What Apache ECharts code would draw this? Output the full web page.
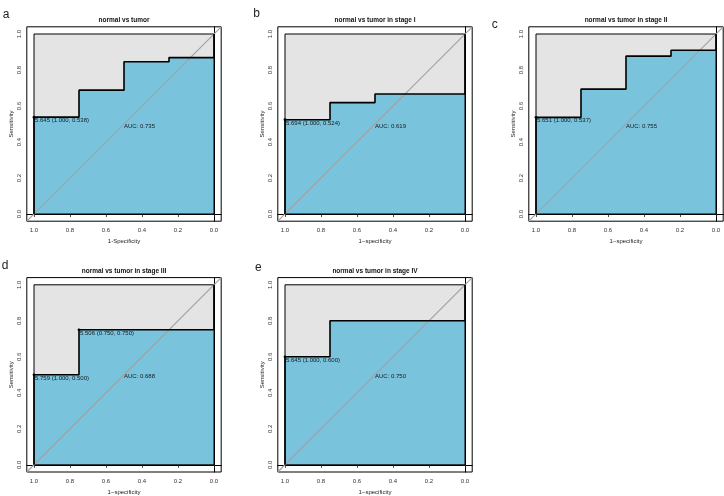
<!DOCTYPE html>
<html>
<head>
<meta charset="utf-8">
<script src="https://cdn.jsdelivr.net/npm/echarts@6/dist/echarts.min.js"></script>
<style>
html,body{margin:0;padding:0;background:#fff;}
#chart{width:724px;height:496px;}
</style>
</head>
<body>
<div id="chart"></div>
<script>
// ---- data ----
const panelLetters = ['a', 'b', 'c', 'd', 'e'];
const panelTitles = ['normal vs tumor', 'normal vs tumor in stage I', 'normal vs tumor in stage II', 'normal vs tumor in stage III', 'normal vs tumor in stage IV'];
const xAxisNames = ['1-Specificity', '1\u2212specificity', '1\u2212specificity', '1\u2212specificity', '1\u2212specificity'];
const yAxisName = 'Sensitivity';
const tickValues = [0, 0.2, 0.4, 0.6, 0.8, 1.0];
const aucValues = [0.735, 0.619, 0.755, 0.688, 0.750];

// ROC step curves (x = specificity, reversed axis)
const specA = [1, 1, 0.75, 0.75, 0.5, 0.5, 0.25, 0.25, 0, 0];
const sensA = [0, 0.538, 0.538, 0.688, 0.688, 0.846, 0.846, 0.869, 0.869, 1];
const specB = [1, 1, 0.75, 0.75, 0.5, 0.5, 0, 0];
const sensB = [0, 0.524, 0.524, 0.619, 0.619, 0.667, 0.667, 1];
const specC = [1, 1, 0.75, 0.75, 0.5, 0.5, 0.25, 0.25, 0, 0];
const sensC = [0, 0.537, 0.537, 0.694, 0.694, 0.877, 0.877, 0.910, 0.910, 1];
const specD = [1, 1, 0.75, 0.75, 0, 0];
const sensD = [0, 0.500, 0.500, 0.750, 0.750, 1];
const specE = [1, 1, 0.75, 0.75, 0, 0];
const sensE = [0, 0.600, 0.600, 0.800, 0.800, 1];

// best thresholds
const thrSpecA = [1.000]; const thrSensA = [0.538]; const thrValA = [5.645];
const thrSpecB = [1.000]; const thrSensB = [0.524]; const thrValB = [5.694];
const thrSpecC = [1.000]; const thrSensC = [0.537]; const thrValC = [5.651];
const thrSpecD = [1.000, 0.750]; const thrSensD = [0.500, 0.750]; const thrValD = [5.759, 5.506];
const thrSpecE = [1.000]; const thrSensE = [0.600]; const thrValE = [5.645];

// max AUC polygon (unit square) and identity line
const maxPolySpec = [1, 0, 0, 1];
const maxPolySens = [0, 0, 1, 1];
const diagSpec = [1.04, -0.04];
const diagSens = [-0.04, 1.04];
const aucTextSpec = 0.5;
const aucTextSens = 0.5;

const specs = [specA, specB, specC, specD, specE];
const senss = [sensA, sensB, sensC, sensD, sensE];
const thrSpecs = [thrSpecA, thrSpecB, thrSpecC, thrSpecD, thrSpecE];
const thrSenss = [thrSensA, thrSensB, thrSensC, thrSensD, thrSensE];
const thrVals = [thrValA, thrValB, thrValC, thrValD, thrValE];

// ---- layout / style ----
const FONT = '"Liberation Sans", Arial, Helvetica, sans-serif';
const BLUE = '#79c3dd';
const GREY = '#e4e4e4';
const DIAG = '#a2a2a2';
const SIZE = 194.4;
const gridLefts = [26.8, 277.8, 528.8, 26.8, 277.8];
const gridTops = [26.8, 26.8, 26.8, 277.6, 277.6];
const letterPos = [[2.7, 8.3], [253.3, 8.0], [491.7, 18.3], [1.7, 260], [255, 261.7]];

const grids = [], xAxes = [], yAxes = [], series = [], titles = [], graphics = [];

for (let i = 0; i < 5; i++) {
  grids.push({
    left: gridLefts[i], top: gridTops[i], width: SIZE, height: SIZE,
    show: true, borderColor: '#000', borderWidth: 1, backgroundColor: 'transparent', containLabel: false
  });
  xAxes.push({
    gridIndex: i, type: 'value', min: -0.04, max: 1.04, inverse: true,
    name: xAxisNames[i], nameLocation: 'middle', nameGap: 17,
    nameTextStyle: { fontSize: 6, color: '#222', fontFamily: FONT },
    axisLine: { show: true, lineStyle: { color: '#000', width: 1 } },
    axisTick: { show: true, length: 3, customValues: tickValues, lineStyle: { color: '#222', width: 0.8 } },
    axisLabel: { customValues: tickValues, formatter: v => v.toFixed(1), margin: 6.5, fontSize: 6, color: '#333', fontFamily: FONT },
    splitLine: { show: false }
  });
  yAxes.push({
    gridIndex: i, type: 'value', min: -0.04, max: 1.04,
    name: yAxisName, nameLocation: 'middle', nameGap: 12,
    nameTextStyle: { fontSize: 6, color: '#222', fontFamily: FONT },
    axisLine: { show: true, lineStyle: { color: '#000', width: 1 } },
    axisTick: { show: true, length: 3, customValues: tickValues, lineStyle: { color: '#222', width: 0.8 } },
    axisLabel: { customValues: tickValues, formatter: v => v.toFixed(1), margin: 4.5, rotate: 90, fontSize: 6, color: '#333', fontFamily: FONT },
    splitLine: { show: false }
  });

  const rocData = specs[i].map((s, k) => [s, senss[i][k]]);
  const polyData = maxPolySpec.map((s, k) => [s, maxPolySens[k]]);

  // grey max-AUC polygon fill
  series.push({
    type: 'custom', xAxisIndex: i, yAxisIndex: i, silent: true, z: 1,
    data: [0],
    renderItem: (params, api) => ({
      type: 'polygon',
      shape: { points: polyData.map(p => api.coord(p)) },
      style: { fill: GREY, stroke: null }
    })
  });
  // blue AUC polygon
  series.push({
    type: 'line', xAxisIndex: i, yAxisIndex: i, silent: true, z: 2,
    data: rocData, symbol: 'none',
    lineStyle: { width: 0, opacity: 0 },
    areaStyle: { color: BLUE, opacity: 1, origin: 0 }
  });
  // square outline
  series.push({
    type: 'custom', xAxisIndex: i, yAxisIndex: i, silent: true, z: 3,
    data: [0],
    renderItem: (params, api) => ({
      type: 'polygon',
      shape: { points: polyData.map(p => api.coord(p)) },
      style: { fill: null, stroke: '#000', lineWidth: 1 }
    })
  });
  // identity line
  series.push({
    type: 'line', xAxisIndex: i, yAxisIndex: i, silent: true, z: 4,
    data: diagSpec.map((s, k) => [s, diagSens[k]]), symbol: 'none',
    lineStyle: { color: DIAG, width: 1.2 }
  });
  // ROC curve
  series.push({
    type: 'line', xAxisIndex: i, yAxisIndex: i, silent: true, z: 5,
    data: rocData, symbol: 'none',
    lineStyle: { color: '#000', width: 1.6 }
  });
  // thresholds
  series.push({
    type: 'custom', xAxisIndex: i, yAxisIndex: i, silent: true, z: 6,
    data: thrSpecs[i].map((s, k) => [s, thrSenss[i][k], thrVals[i][k]]),
    renderItem: (params, api) => {
      const sp = api.value(0), se = api.value(1), th = api.value(2);
      const p = api.coord([sp, se]);
      return {
        type: 'group',
        children: [
          { type: 'circle', shape: { cx: p[0], cy: p[1], r: 1.4 }, style: { fill: '#000' } },
          { type: 'text', x: p[0] + 1, y: p[1] + 0.3,
            style: { text: th.toFixed(3) + ' (' + sp.toFixed(3) + ', ' + se.toFixed(3) + ')',
              fontSize: 6, fontFamily: FONT, fill: '#1a1a1a', align: 'left', verticalAlign: 'top' } }
        ]
      };
    }
  });
  // AUC text
  series.push({
    type: 'custom', xAxisIndex: i, yAxisIndex: i, silent: true, z: 6,
    data: [[aucTextSpec, aucTextSens, aucValues[i]]],
    renderItem: (params, api) => {
      const p = api.coord([api.value(0), api.value(1)]);
      return { type: 'text', x: p[0], y: p[1] - 1,
        style: { text: 'AUC: ' + api.value(2).toFixed(3), fontSize: 6, fontFamily: FONT, fill: '#1a1a1a', align: 'left', verticalAlign: 'top' } };
    }
  });

  titles.push({
    text: panelTitles[i], left: gridLefts[i] + SIZE / 2, top: gridTops[i] - 10.3, textAlign: 'center',
    padding: 0,
    textStyle: { fontSize: 6.5, fontWeight: 'bold', color: '#111', fontFamily: FONT }
  });
  graphics.push({
    type: 'text', x: letterPos[i][0], y: letterPos[i][1],
    style: { text: panelLetters[i], fontSize: 12, fontFamily: FONT, fill: '#222', verticalAlign: 'alphabetic', align: 'left' }
  });
}

const chart = echarts.init(document.getElementById('chart'), null, { renderer: 'canvas' });
chart.setOption({
  animation: false,
  backgroundColor: '#fff',
  title: titles,
  grid: grids,
  xAxis: xAxes,
  yAxis: yAxes,
  series: series,
  graphic: graphics
});
</script>
</body>
</html>
